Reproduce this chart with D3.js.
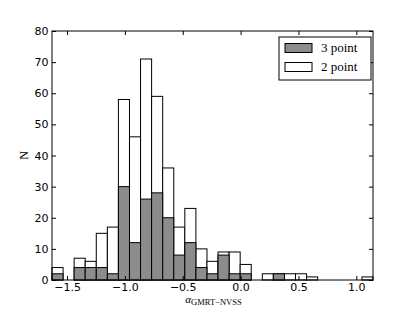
<!DOCTYPE html>
<html>
<head>
<meta charset="utf-8">
<script src="https://cdn.jsdelivr.net/npm/d3@7"></script>
<style>
  body { margin: 0; background: #fff; }
  .tick text { font-family: "DejaVu Sans", sans-serif; font-size: 11px; fill: #000; }
</style>
</head>
<body>
<svg width="415" height="312"></svg>
<script>
// histogram bins of alpha (GMRT-NVSS)
var binStart = -1.63, binWidth = 0.09566;
var twoPoint   = [4, 0, 7, 6, 15, 17, 58, 46, 71, 59, 36, 17, 23, 10, 6, 9, 9, 5, 0, 2, 2, 2, 2, 1, 0, 0, 0, 0, 1];
var threePoint = [2, 0, 4, 4, 4, 2, 30, 12, 26, 28, 20, 8, 12, 4, 2, 8, 2, 2, 0, 0, 2, 0, 0, 0, 0, 0, 0, 0, 0];
var xTicks = [-1.5, -1.0, -0.5, 0.0, 0.5, 1.0];
var yTicks = [0, 10, 20, 30, 40, 50, 60, 70, 80];

var svg = d3.select("svg");

var margin = {top: 31, right: 42, bottom: 32, left: 52},
    width = 415 - margin.left - margin.right,
    height = 312 - margin.top - margin.bottom;

var xMax = binStart + binWidth * twoPoint.length;

var x = d3.scaleLinear()
    .domain([binStart, xMax])
    .range([0, width]);
var y = d3.scaleLinear()
    .domain([0, 80])
    .range([height, 0]);

var g = svg.append("g")
    .attr("transform", "translate(" + margin.left + "," + margin.top + ")");

function bars(data, fill) {
    g.append("g").selectAll("rect")
        .data(data.map(function (d, i) { return {i: i, n: d}; })
                  .filter(function (d) { return d.n > 0; }))
        .enter()
        .append("rect")
        .attr("x", function (d) { return x(binStart + d.i * binWidth); })
        .attr("width", function (d) { return x(binStart + (d.i + 1) * binWidth) - x(binStart + d.i * binWidth); })
        .attr("y", function (d) { return y(d.n); })
        .attr("height", function (d) { return y(0) - y(d.n); })
        .attr("fill", fill)
        .attr("stroke", "#000")
        .attr("stroke-width", 1);
}

bars(twoPoint, "#fff");
bars(threePoint, "#8c8c8c");

// axes, ticks inside on all four sides
function fmt(d) { return d3.format(".1f")(d).replace("-", "\u2212"); }

g.append("g")
    .attr("transform", "translate(0," + height + ")")
    .call(d3.axisBottom(x).tickValues(xTicks).tickFormat(fmt).tickSizeInner(-4).tickSizeOuter(0).tickPadding(3));
g.append("g")
    .call(d3.axisTop(x).tickValues(xTicks).tickFormat("").tickSizeInner(-4).tickSizeOuter(0));
g.append("g")
    .call(d3.axisLeft(y).tickValues(yTicks).tickSizeInner(-4).tickSizeOuter(0).tickPadding(3.5));
g.append("g")
    .attr("transform", "translate(" + width + ",0)")
    .call(d3.axisRight(y).tickValues(yTicks).tickFormat("").tickSizeInner(-4).tickSizeOuter(0));

g.selectAll(".domain").remove();
g.selectAll(".tick line").attr("stroke", "#000");

g.append("rect")
    .attr("width", width)
    .attr("height", height)
    .attr("fill", "none")
    .attr("stroke", "#000")
    .attr("stroke-width", 1);

// axis labels
var xl = svg.append("text")
    .attr("x", margin.left + width / 2 + 1)
    .attr("y", 303)
    .attr("text-anchor", "middle")
    .attr("font-family", "Liberation Serif, serif");
xl.append("tspan").attr("font-size", "11px").attr("font-style", "italic").text("\u03b1");
xl.append("tspan").attr("font-size", "8.5px").attr("dy", 1.5).text("GMRT\u2212NVSS");

svg.append("text")
    .attr("transform", "translate(28," + (margin.top + height / 2) + ") rotate(-90)")
    .attr("text-anchor", "middle")
    .attr("font-family", "Liberation Serif, serif")
    .attr("font-size", "12px")
    .text("N");

// legend
var leg = svg.append("g").attr("transform", "translate(279,37)");
leg.append("rect")
    .attr("width", 92).attr("height", 43)
    .attr("fill", "#fff").attr("stroke", "#000").attr("stroke-width", 1);
var items = [{label: "3 point", fill: "#8c8c8c"}, {label: "2 point", fill: "#fff"}];
items.forEach(function (it, i) {
    leg.append("rect")
        .attr("x", 6).attr("y", 6.5 + i * 19)
        .attr("width", 27).attr("height", 9)
        .attr("fill", it.fill).attr("stroke", "#000");
    leg.append("text")
        .attr("x", 42).attr("y", 15 + i * 19)
        .attr("font-family", "Liberation Serif, serif")
        .attr("font-size", "13px")
        .text(it.label);
});
</script>
</body>
</html>
